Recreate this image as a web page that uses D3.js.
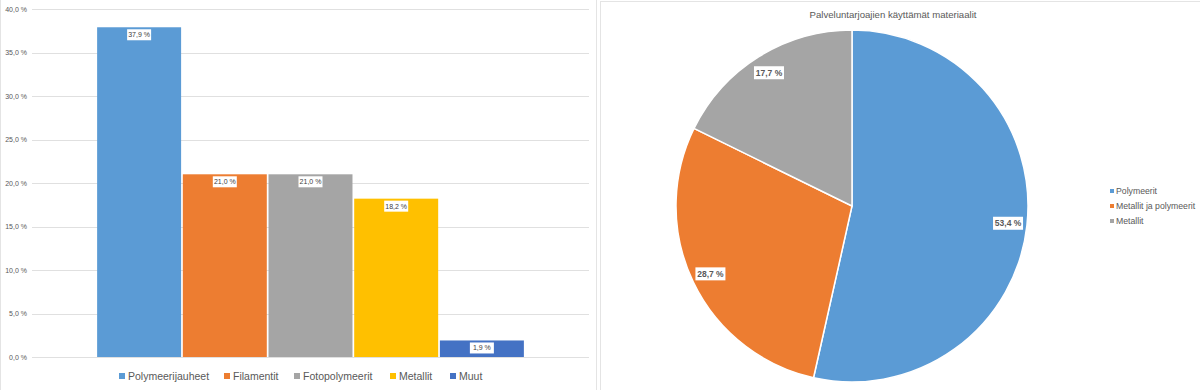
<!DOCTYPE html>
<html>
<head>
<meta charset="utf-8">
<script src="https://cdn.jsdelivr.net/npm/d3@7"></script>
<style>
html,body{margin:0;padding:0;background:#fff;}
svg{display:block;font-family:"Liberation Sans",Arial,sans-serif;}
</style>
</head>
<body>
<svg id="chart" width="1200" height="390"></svg>
<script>
// ---- data ----
const barCategories = ["Polymeerijauheet","Filamentit","Fotopolymeerit","Metallit","Muut"];
const barValues = [37.9, 21.0, 21.0, 18.2, 1.9];
const barColors = ["#5B9BD5","#ED7D31","#A5A5A5","#FFC000","#4472C4"];
const yTicks = [0,5,10,15,20,25,30,35,40];

const pieTitle = "Palveluntarjoajien käyttämät materiaalit";
const pieCategories = ["Polymeerit","Metallit ja polymeerit","Metallit"];
const pieValues = [53.4, 28.7, 17.7];
const pieColors = ["#5B9BD5","#ED7D31","#A5A5A5"];

const fmt = v => d3.format(".1f")(v).replace(".", ",") + " %";

const svg = d3.select("#chart");

// panel borders
svg.append("rect").attr("x",0.5).attr("y",-1).attr("width",596).attr("height",392)
  .attr("fill","none").attr("stroke","#e4e4e4");
svg.append("rect").attr("x",600.5).attr("y",1.5).attr("width",600).attr("height",392)
  .attr("fill","none").attr("stroke","#e4e4e4");

// ---- bar chart ----
const y = d3.scaleLinear().domain([0,40]).range([357,9]);
const x = d3.scaleBand().domain(barCategories).range([32,589]).paddingInner(0.02).paddingOuter(0.76);

const gGrid = svg.append("g");
gGrid.selectAll("line").data(yTicks).join("line")
  .attr("x1",32).attr("x2",589)
  .attr("y1",d=>Math.round(y(d))+0.5).attr("y2",d=>Math.round(y(d))+0.5)
  .attr("stroke","#e0e0e0").attr("stroke-width",1);

const yAxis = d3.axisLeft(y).tickValues(yTicks).tickSize(0).tickPadding(0)
  .tickFormat(d=>fmt(d));
const gy = svg.append("g").attr("transform","translate(27,0)").call(yAxis);
gy.select(".domain").remove();
gy.selectAll("text").attr("font-size",7).attr("fill","#595959").attr("font-family","Liberation Sans, Arial, sans-serif");

svg.append("g").selectAll("rect").data(barValues).join("rect")
  .attr("x",(d,i)=>x(barCategories[i]))
  .attr("width",x.bandwidth())
  .attr("y",d=>y(d))
  .attr("height",d=>y(0)-y(d))
  .attr("fill",(d,i)=>barColors[i]);

const lbl = svg.append("g").selectAll("g").data(barValues).join("g")
  .attr("transform",(d,i)=>`translate(${x(barCategories[i])+x.bandwidth()/2},${y(d)+7})`);
lbl.append("rect").attr("x",-12).attr("y",-5).attr("width",24).attr("height",11).attr("fill","#fff");
lbl.append("text").attr("text-anchor","middle").attr("dy","0.35em").attr("y",0.5)
  .attr("font-size",7).attr("fill","#404040").text(d=>fmt(d));

// bottom legend
const legendXs = [119,224,294,390,450];
const lg = svg.append("g").selectAll("g").data(barCategories).join("g")
  .attr("transform",(d,i)=>`translate(${legendXs[i]},376)`);
lg.append("rect").attr("x",0).attr("y",-3).attr("width",6).attr("height",6).attr("fill",(d,i)=>barColors[i]);
lg.append("text").attr("x",9).attr("dy","0.35em").attr("font-size",10.5).attr("fill","#595959").text(d=>d);

// ---- pie chart ----
const cx = 852, cy = 206, r = 176;
svg.append("text").attr("x",893).attr("y",18).attr("text-anchor","middle")
  .attr("font-size",9.6).attr("fill","#595959").text(pieTitle);

const pie = d3.pie().sort(null).value(d=>d);
const arcs = pie(pieValues);
const arc = d3.arc().innerRadius(0).outerRadius(r);
const labelArc = d3.arc().innerRadius(157*2-r).outerRadius(r); // centroid at 157
const gp = svg.append("g").attr("transform",`translate(${cx},${cy})`);
gp.selectAll("path").data(arcs).join("path")
  .attr("d",arc).attr("fill",(d,i)=>pieColors[i])
  .attr("stroke","#fff").attr("stroke-width",1.5);

const pl = gp.selectAll("g.pl").data(arcs).join("g").attr("class","pl")
  .attr("transform",d=>`translate(${labelArc.centroid(d)})`);
pl.append("rect").attr("x",-15).attr("y",-6.5).attr("width",30).attr("height",13).attr("fill","#fff");
pl.append("text").attr("text-anchor","middle").attr("dy","0.35em")
  .attr("font-size",8.5).attr("font-weight","bold").attr("fill","#595959").text(d=>fmt(d.data));

// right legend
const rl = svg.append("g").selectAll("g").data(pieCategories).join("g")
  .attr("transform",(d,i)=>`translate(1110,${191+i*15})`);
rl.append("rect").attr("x",0).attr("y",-2).attr("width",4).attr("height",4).attr("fill",(d,i)=>pieColors[i]);
rl.append("text").attr("x",6).attr("dy","0.35em").attr("font-size",8.7).attr("fill","#595959").text(d=>d);
</script>
</body>
</html>
